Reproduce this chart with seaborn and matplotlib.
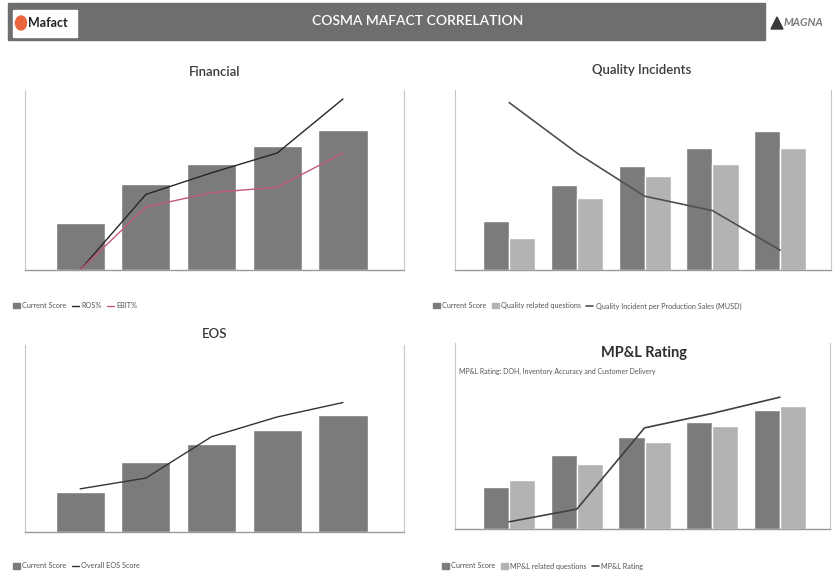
import numpy as np
import pandas as pd
import seaborn as sns
import matplotlib
matplotlib.use('Agg')
import matplotlib.pyplot as plt
from matplotlib.patches import Patch, Rectangle, Ellipse, Polygon
from matplotlib.lines import Line2D

# data (axis units: 0-100)
periods = ['P1', 'P2', 'P3', 'P4', 'P5']

fin_score = [26, 48, 59, 69, 78]
fin_ros = [0, 42, 54, 65, 95]
fin_ebit = [0, 35, 43, 46, 65]

qual_score = [27, 47, 58, 68, 77]
qual_questions = [18, 40, 52, 59, 68]
qual_incidents = [93, 65, 41, 33, 11]

eos_score = [22, 39, 49, 57, 65]
eos_overall = [24, 30, 53, 64, 72]

mpl_score = [23, 41, 51, 59, 66]
mpl_questions = [27, 36, 48, 57, 68]
mpl_rating = [4, 11, 56, 64, 73]

DARK = '#7b7b7b'
LIGHT = '#b3b3b3'
LEG_FS = 5.2

sns.set_theme(style='white')
plt.rcParams['font.family'] = ['Lato', 'DejaVu Sans']

W, H = 836, 574
fig = plt.figure(figsize=(W / 100, H / 100), dpi=100)


def px_axes(x0, y0, x1, y1):
    # axes placed by pixel box of the reference
    return fig.add_axes([x0 / W, 1 - y1 / H, (x1 - x0) / W, (y1 - y0) / H])


def style_axes(ax, xlim, ytop):
    ax.set_xlim(*xlim)
    ax.set_ylim(0, ytop)
    ax.set_xticks([])
    ax.set_yticks([])
    ax.set_xlabel('')
    ax.set_ylabel('')
    ax.spines['top'].set_visible(False)
    for s in ['left', 'right']:
        ax.spines[s].set_color('#c8c8c8')
        ax.spines[s].set_linewidth(0.8)
    ax.spines['bottom'].set_color('#9a9a9a')
    ax.spines['bottom'].set_linewidth(1.0)
    ax.patch.set_alpha(0)


def single_bars(ax, score):
    sns.barplot(x=periods, y=score, color=DARK, saturation=1, width=0.75, ax=ax)


def paired_bars(ax, score, other, other_name):
    df = pd.DataFrame({
        'period': periods * 2,
        'value': score + other,
        'series': ['Current Score'] * 5 + [other_name] * 5,
    })
    sns.barplot(data=df, x='period', y='value', hue='series',
                palette=[DARK, LIGHT], saturation=1, width=0.77,
                dodge=True, legend=False, ax=ax)


def legend_below(handles, labels, x, y):
    fig.legend(handles, labels, loc='center left', bbox_to_anchor=(x / W, 1 - y / H),
               frameon=False, ncol=len(handles), fontsize=LEG_FS, handlelength=1.0,
               handleheight=0.7, handletextpad=0.3, columnspacing=0.7,
               labelcolor='#555555', borderaxespad=0, borderpad=0)


xpos = np.arange(len(periods))

# ---- Financial
ax1 = px_axes(25, 90, 404, 270)
single_bars(ax1, fin_score)
sns.lineplot(x=xpos, y=fin_ros, color='#262626', linewidth=1.0, ax=ax1)
sns.lineplot(x=xpos, y=fin_ebit, color='#c2587d', linewidth=1.0, ax=ax1)
style_axes(ax1, (-0.84, 4.93), 100)
fig.text(215 / W, 1 - 72 / H, 'Financial', ha='center', va='center',
         fontsize=9.5, fontweight='semibold', color='#3a3a3a')
legend_below([Patch(color=DARK), Line2D([], [], color='#262626', lw=1),
              Line2D([], [], color='#c2587d', lw=1)],
             ['Current Score', 'ROS%', 'EBIT%'], 13, 306)

# ---- Quality Incidents
ax2 = px_axes(455, 90, 831, 270)
paired_bars(ax2, qual_score, qual_questions, 'Quality related questions')
sns.lineplot(x=xpos, y=qual_incidents, color='#505050', linewidth=1.2, ax=ax2)
style_axes(ax2, (-0.80, 4.75), 100)
fig.text(642 / W, 1 - 70 / H, 'Quality Incidents', ha='center', va='center',
         fontsize=9.5, fontweight='semibold', color='#3a3a3a')
legend_below([Patch(color=DARK), Patch(color=LIGHT),
              Line2D([], [], color='#505050', lw=1.2)],
             ['Current Score', 'Quality related questions',
              'Quality Incident per Production Sales (MUSD)'], 433, 306)

# ---- EOS
ax3 = px_axes(25, 345, 404, 532)
single_bars(ax3, eos_score)
sns.lineplot(x=xpos, y=eos_overall, color='#333333', linewidth=1.0, ax=ax3)
style_axes(ax3, (-0.84, 4.93), 104)
fig.text(215 / W, 1 - 334 / H, 'EOS', ha='center', va='center',
         fontsize=9.5, fontweight='semibold', color='#3a3a3a')
legend_below([Patch(color=DARK), Line2D([], [], color='#333333', lw=1)],
             ['Current Score', 'Overall EOS Score'], 13, 566)

# ---- MP&L Rating
ax4 = px_axes(455, 343, 830, 529)
paired_bars(ax4, mpl_score, mpl_questions, 'MP&L related questions')
sns.lineplot(x=xpos, y=mpl_rating, color='#404040', linewidth=1.2, ax=ax4)
style_axes(ax4, (-0.80, 4.74), 103)
fig.text(644 / W, 1 - 353 / H, 'MP&L Rating', ha='center', va='center',
         fontsize=10.5, fontweight='bold', color='#2e2e2e')
fig.text(459 / W, 1 - 371 / H,
         'MP&L Rating: DOH, Inventory Accuracy and Customer Delivery',
         ha='left', va='center', fontsize=5.0, color='#555555')
legend_below([Patch(color=DARK), Patch(color=LIGHT),
              Line2D([], [], color='#404040', lw=1.2)],
             ['Current Score', 'MP&L related questions', 'MP&L Rating'], 442, 566)

# ---- header band with logos
fig.patches.append(Rectangle((8 / W, 1 - 40 / H), 757 / W, 37 / H,
                             transform=fig.transFigure, color='#6e6e6e', zorder=0))
fig.text(418 / W, 1 - 21 / H, 'COSMA MAFACT CORRELATION', ha='center', va='center',
         fontsize=10, fontweight='semibold', color='white')
fig.patches.append(Rectangle((13 / W, 1 - 37 / H), 64 / W, 27 / H,
                             transform=fig.transFigure, color='white', zorder=1))
fig.patches.append(Ellipse((21 / W, 1 - 23 / H), 11 / W, 14 / H, transform=fig.transFigure,
                           color='#e8643c', zorder=2))
fig.text(28 / W, 1 - 23 / H, 'Mafact', ha='left', va='center', fontsize=9,
         fontweight='bold', color='#222222', zorder=3)
fig.patches.append(Polygon([(771 / W, 1 - 29 / H), (777 / W, 1 - 17 / H), (783 / W, 1 - 29 / H)],
                           closed=True, transform=fig.transFigure, color='#3a3a3a'))
fig.text(784 / W, 1 - 23 / H, 'MAGNA', ha='left', va='center', fontsize=8,
         fontweight='bold', fontstyle='italic', color='#7a7a7a')

fig.savefig('out.png', dpi=100, facecolor='white')
plt.close(fig)
